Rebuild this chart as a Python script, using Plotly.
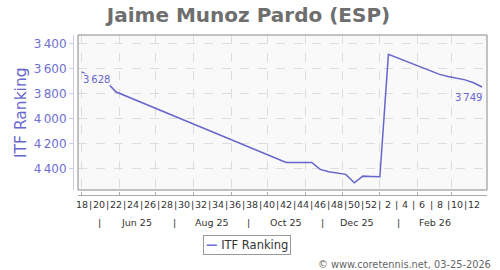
import plotly.graph_objects as go
import pandas as pd

# ---------------- data ----------------
dates = ["2025-05-01", "2025-05-08", "2025-05-15", "2025-05-22", "2025-05-29",
         "2025-10-09", "2025-10-16", "2025-11-06", "2025-11-13", "2025-11-20",
         "2025-11-27", "2025-12-04", "2025-12-11", "2025-12-18", "2025-12-25",
         "2026-01-01", "2026-01-08", "2026-02-19", "2026-02-26", "2026-03-05",
         "2026-03-12", "2026-03-19", "2026-03-26"]
ranking = [3628, 3665, 3690, 3712, 3787,
           4328, 4352, 4352, 4408, 4427,
           4435, 4448, 4515, 4462, 4465,
           4467, 3488, 3648, 3665, 3678,
           3692, 3715, 3749]

week_start = "2025-05-01"   # Thursday of ISO week 18
week_numbers = [18, 19, 20, 21, 22, 23, 24, 25, 26, 27, 28, 29, 30, 31, 32, 33, 34,
                35, 36, 37, 38, 39, 40, 41, 42, 43, 44, 45, 46, 47, 48, 49, 50, 51,
                52, 1, 2, 3, 4, 5, 6, 7, 8, 9, 10, 11, 12]
month_label_dates = ["2025-05-16", "2025-06-15", "2025-07-16", "2025-08-16",
                     "2025-09-15", "2025-10-16", "2025-11-15", "2025-12-13",
                     "2026-01-16", "2026-02-15"]
month_labels = ["|", "Jun 25", "|", "Aug 25", "|", "Oct 25", "|", "Dec 25", "|", "Feb 26"]
month_grid = ["2025-05-01", "2025-06-01", "2025-07-01", "2025-08-01", "2025-09-01",
              "2025-10-01", "2025-11-01", "2025-12-01", "2026-01-01", "2026-02-01",
              "2026-03-01"]
y_ticks = [3400, 3600, 3800, 4000, 4200, 4400]
series_name = "ITF Ranking"

W, H = 500, 270
FONT = "DejaVu Sans"
LINE = "#6666cc"
TICKC = "#6f6fd0"

def px_x(p):
    return p / W

def px_y(p):
    return (H - p) / H

fig = go.Figure()
fig.add_trace(go.Scatter(
    x=dates, y=ranking, mode="lines", name=series_name,
    line=dict(color=LINE, width=1.5), showlegend=False, hoverinfo="x+y"))

week_dates = pd.date_range(week_start, periods=len(week_numbers), freq="7D")
annotations = []
for d, w in zip(week_dates, week_numbers):
    annotations.append(dict(
        x=d.strftime("%Y-%m-%d"), y=px_y(204), xref="x", yref="paper",
        text=(str(w) if w % 2 == 0 else "|"), showarrow=False,
        font=dict(family=FONT, size=9.5, color="#333333"),
        xanchor="center", yanchor="middle"))
for d, t in zip(month_label_dates, month_labels):
    annotations.append(dict(
        x=d, y=px_y(222), xref="x", yref="paper", text=t, showarrow=False,
        font=dict(family=FONT, size=9.5, color="#333333"),
        xanchor="center", yanchor="middle"))

def fmt(v):
    s = f"{v:,}"
    return s.replace(",", "\u2009")

# value labels at first & last point
annotations.append(dict(
    x=dates[0], y=ranking[0], xref="x", yref="y", text=fmt(ranking[0]),
    showarrow=False, xanchor="left", yanchor="top", xshift=0, yshift=-1,
    bgcolor="#f9f9f9", borderpad=0,
    font=dict(family=FONT, size=10, color=LINE)))
annotations.append(dict(
    x=dates[-1], y=ranking[-1], xref="x", yref="y", text=fmt(ranking[-1]),
    showarrow=False, xanchor="right", yanchor="top", xshift=1, yshift=-4,
    borderpad=0, font=dict(family=FONT, size=10, color=LINE)))
# footer
annotations.append(dict(
    x=px_x(493), y=px_y(264), xref="paper", yref="paper",
    text="\u00a9 www.coretennis.net, 03-25-2026", showarrow=False,
    xanchor="right", yanchor="middle",
    font=dict(family=FONT, size=9.8, color="#666666")))
# y-axis title
annotations.append(dict(
    x=px_x(21), y=px_y(113), xref="paper", yref="paper", text=series_name,
    textangle=-90, showarrow=False, xanchor="center", yanchor="middle",
    font=dict(family=FONT, size=15.5, color=LINE)))
# legend box
annotations.append(dict(
    x=px_x(247), y=px_y(245), xref="paper", yref="paper",
    text="<b><span style='color:#6f6fd4'>\u2014</span></b> " + series_name,
    showarrow=False, xanchor="center", yanchor="middle",
    bordercolor="#999999", borderwidth=1, borderpad=2, bgcolor="white",
    font=dict(family=FONT, size=11.5, color="#333333")))

fig.update_layout(
    width=W, height=H,
    margin=dict(l=0, r=0, t=0, b=0),
    paper_bgcolor="white",
    plot_bgcolor="#f9f9f9",
    font=dict(family=FONT),
    title=dict(text="<b>Jaime Munoz Pardo (ESP)</b>", x=0.497, xanchor="center",
               y=px_y(15), yanchor="middle", yref="paper",
               font=dict(family=FONT, size=20, color="#6e6e6e")),
    xaxis=dict(
        type="date", domain=[px_x(78), px_x(487)],
        range=["2025-04-28", "2026-03-30"],
        anchor="free", position=px_y(195),
        tickmode="array", tickvals=month_grid, showticklabels=False,
        ticks="inside", ticklen=3, tickcolor="#aaaaaa",
        showline=True, linecolor="#aaaaaa", linewidth=1,
        showgrid=True, gridcolor="#dddddd", griddash="dash", gridwidth=1,
        zeroline=False),
    yaxis=dict(
        domain=[px_y(190), px_y(35)],
        range=[4573, 3333],
        anchor="free", position=px_x(73),
        tickmode="array", tickvals=y_ticks, ticktext=[fmt(v) for v in y_ticks],
        ticks="outside", ticklen=4, tickcolor="#ccccee",
        tickfont=dict(family=FONT, size=12, color=TICKC),
        showline=True, linecolor="#ccccee", linewidth=1,
        showgrid=True, gridcolor="#dddddd", griddash="dash", gridwidth=1,
        zeroline=False),
    shapes=[dict(type="rect", xref="x domain", yref="y domain",
                 x0=0, x1=1, y0=0, y1=1, line=dict(color="#888888", width=1),
                 fillcolor="rgba(0,0,0,0)", layer="above")],
    annotations=annotations,
    showlegend=False,
)

fig.write_html("out.html")
